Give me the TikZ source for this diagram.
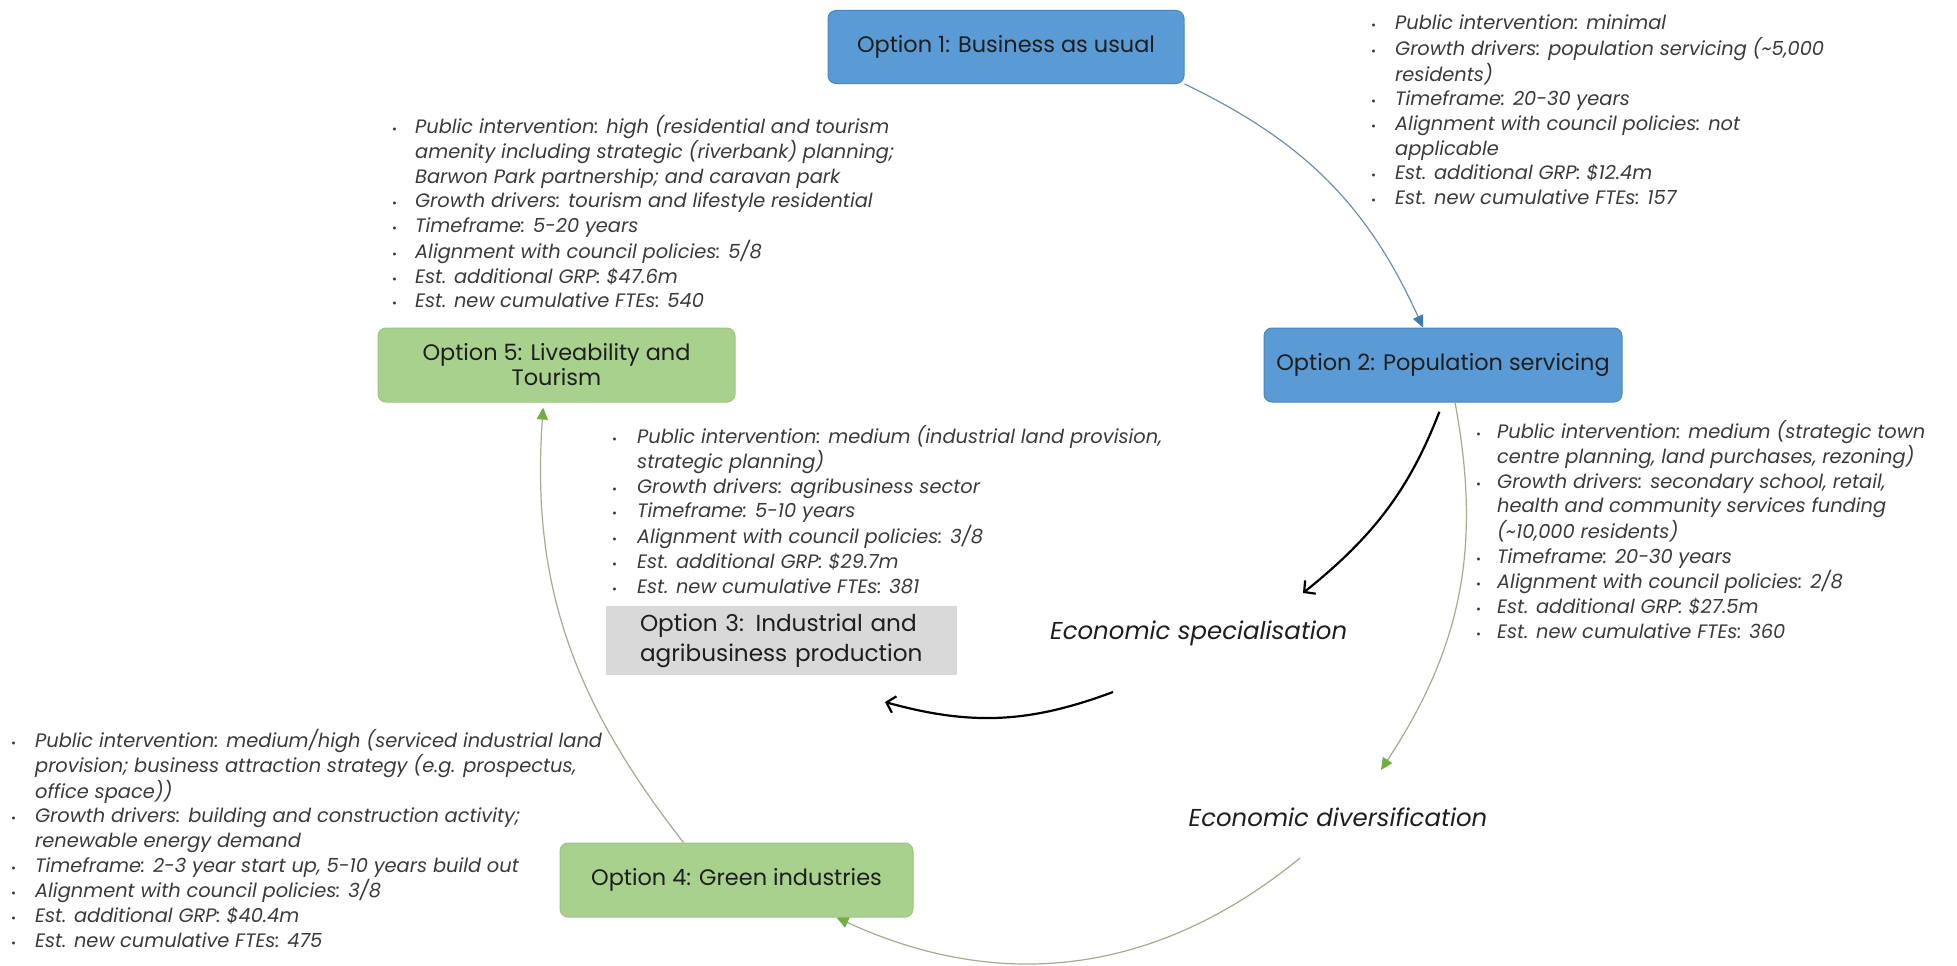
\documentclass[tikz,border=0pt]{standalone}
\usepackage{fontspec}
\setmainfont{Poppins}
\usetikzlibrary{arrows.meta, positioning}

\definecolor{optblue}{HTML}{5B9BD5}
\definecolor{optblueline}{HTML}{4A86C0}
\definecolor{optgreen}{HTML}{A9D18E}
\definecolor{optgreenline}{HTML}{9CC680}
\definecolor{optgray}{HTML}{D9D9D9}
\definecolor{boxtext}{HTML}{1E1E1E}
\definecolor{listtext}{HTML}{3A3A3A}
\definecolor{arcgreen}{HTML}{A7AA8E}
\definecolor{tipgreen}{HTML}{70AD47}
\definecolor{arcblue}{HTML}{6F8DB3}
\definecolor{tipblue}{HTML}{3F7AB6}

\newcommand{\itm}{{\upshape\fontsize{12}{12}\selectfont\textbullet}}
\newlength{\probe}

\tikzset{
  optbox/.style={rounded corners=8pt, inner sep=0pt, align=center, text=boxtext,
    font=\fontsize{\boxsize}{25}\selectfont},
  bluebox/.style={optbox, fill=optblue, draw=optblueline, line width=1pt},
  greenbox/.style={optbox, fill=optgreen, draw=optgreenline, line width=1pt},
  infolist/.style={anchor=base west, inner sep=0pt, text=listtext,
    font=\fontsize{\listsize}{24.7}\selectfont\itshape},
  flowtext/.style={inner sep=0pt, text=boxtext, font=\fontsize{\flowsize}{25}\selectfont\itshape},
  cyclearc/.style={draw=arcgreen, line width=1.2pt,
    -{Triangle[length=12pt, width=11pt, color=tipgreen]}},
  bluearc/.style={draw=arcblue, line width=1.2pt,
    -{Triangle[length=12pt, width=11pt, color=tipblue]}},
  flowarrow/.style={draw=black, line width=2.2pt, -{Straight Barb[length=8pt, width=17pt]}}
}

\begin{document}
\settowidth{\probe}{\fontsize{10}{12}\selectfont\itshape Public intervention: medium (industrial land provision,}
\pgfmathsetmacro{\listsize}{10*525/\probe}
\settowidth{\probe}{\fontsize{10}{12}\selectfont Option 5: Liveability and}
\pgfmathsetmacro{\boxsize}{10*268/\probe}
\settowidth{\probe}{\fontsize{10}{12}\selectfont agribusiness production}
\pgfmathsetmacro{\grayboxsize}{10*281/\probe}
\settowidth{\probe}{\fontsize{10}{12}\selectfont\itshape Economic specialisation}
\pgfmathsetmacro{\flowsize}{10*297/\probe}
\begin{tikzpicture}[x=1pt, y=-1pt]
\useasboundingbox (0,0) rectangle (1957,966);

\node[bluebox, minimum width=356pt, minimum height=73pt] (opt1) at (1006,47) {Option 1: Business as usual};
\node[bluebox, minimum width=358pt, minimum height=74pt] (opt2) at (1443,365) {Option 2: Population servicing};
\node[fill=optgray, inner xsep=34pt, inner ysep=0pt, minimum height=69pt, text width=283pt, align=left,
  text=boxtext, font=\fontsize{\grayboxsize}{30}\selectfont] (opt3) at (781.5,640.5) {Option 3: Industrial and\\agribusiness production};
\node[greenbox, minimum width=353pt, minimum height=74pt] (opt4) at (736.5,880) {Option 4: Green industries};
\node[greenbox, minimum width=357pt, minimum height=74pt] (opt5) at (556.5,365) {Option 5: Liveability and\\Tourism};

\node[flowtext, anchor=west] (spec) at (1050,633) {Economic specialisation};
\node[flowtext] (div) at (1338,817) {Economic diversification};

\node[infolist] (opt1info) at (1371,30) {\begin{tabular}[t]{@{}l@{\hspace{19pt}}l@{}}
\itm & Public intervention: minimal\\
\itm & Growth drivers: population servicing (\textasciitilde 5,000\\
 & residents)\\
\itm & Timeframe: 20-30 years\\
\itm & Alignment with council policies: not\\
 & applicable\\
\itm & Est. additional GRP: \$12.4m\\
\itm & Est. new cumulative FTEs: 157
\end{tabular}};

\node[infolist] (opt2info) at (1476,438) {\begin{tabular}[t]{@{}l@{\hspace{16pt}}l@{}}
\itm & Public intervention: medium (strategic town\\
 & centre planning, land purchases, rezoning)\\
\itm & Growth drivers: secondary school, retail,\\
 & health and community services funding\\
 & (\textasciitilde 10,000 residents)\\
\itm & Timeframe: 20-30 years\\
\itm & Alignment with council policies: 2/8\\
\itm & Est. additional GRP: \$27.5m\\
\itm & Est. new cumulative FTEs: 360
\end{tabular}};

\node[infolist] (opt3info) at (612,443) {\begin{tabular}[t]{@{}l@{\hspace{20pt}}l@{}}
\itm & Public intervention: medium (industrial land provision,\\
 & strategic planning)\\
\itm & Growth drivers: agribusiness sector\\
\itm & Timeframe: 5-10 years\\
\itm & Alignment with council policies: 3/8\\
\itm & Est. additional GRP: \$29.7m\\
\itm & Est. new cumulative FTEs: 381
\end{tabular}};

\node[infolist] (opt4info) at (11,747) {\begin{tabular}[t]{@{}l@{\hspace{19pt}}l@{}}
\itm & Public intervention: medium/high (serviced industrial land\\
 & provision; business attraction strategy (e.g. prospectus,\\
 & office space))\\
\itm & Growth drivers: building and construction activity;\\
 & renewable energy demand\\
\itm & Timeframe: 2-3 year start up, 5-10 years build out\\
\itm & Alignment with council policies: 3/8\\
\itm & Est. additional GRP: \$40.4m\\
\itm & Est. new cumulative FTEs: 475
\end{tabular}};

\node[infolist] (opt5info) at (392,133) {\begin{tabular}[t]{@{}l@{\hspace{18pt}}l@{}}
\itm & Public intervention: high (residential and tourism\\
 & amenity including strategic (riverbank) planning;\\
 & Barwon Park partnership; and caravan park\\
\itm & Growth drivers: tourism and lifestyle residential\\
\itm & Timeframe: 5-20 years\\
\itm & Alignment with council policies: 5/8\\
\itm & Est. additional GRP: \$47.6m\\
\itm & Est. new cumulative FTEs: 540
\end{tabular}};

\coordinate (divin) at (1381,770);
\coordinate (divout) at (1300,858);
\coordinate (specin) at (1303,593);
\coordinate (specout) at (1113,692);
\coordinate (opt3in) at (885,702);

\draw[bluearc] (opt1.south east) to[bend left=20] ([xshift=-20pt]opt2.north);
\draw[cyclearc] ([xshift=12pt]opt2.south) to[bend left=22] (divin);
\draw[cyclearc] (divout) to[bend left=32] ([xshift=100pt]opt4.south);
\draw[cyclearc, shorten >=5pt] ([xshift=-53pt]opt4.north) to[out=128, in=-94] ([xshift=-13pt]opt5.south);
\draw[flowarrow, shorten <=10pt] (opt2.south) to[bend left=15] (specin);
\draw[flowarrow] (specout) to[bend left=18] (opt3in);
\end{tikzpicture}
\end{document}
